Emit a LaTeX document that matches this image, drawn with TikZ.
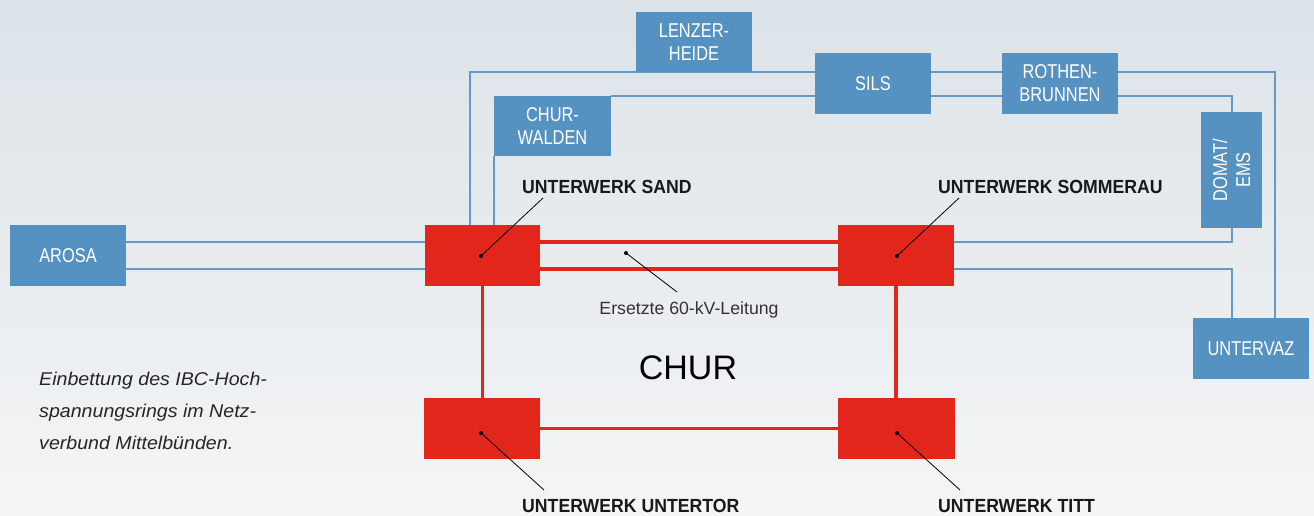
\documentclass[tikz,border=0pt]{standalone}
\usepackage{fontspec}
\setmainfont{Liberation Sans}
\newfontfamily\boxfont[FakeStretch=0.82]{Liberation Sans}
\newfontfamily\lblfont[FakeStretch=0.93]{Liberation Sans}
\newfontfamily\capfont[FakeStretch=1.06]{Liberation Sans}
\definecolor{bgtop}{HTML}{DCE3E8}
\definecolor{bgbot}{HTML}{F4F5F6}
\definecolor{boxblue}{HTML}{5591C1}
\definecolor{lineblue}{HTML}{6399CB}
\definecolor{netred}{HTML}{E2261B}
\pgfdeclarelayer{bglayer}
\pgfdeclarelayer{linelayer}
\pgfsetlayers{bglayer,linelayer,main}
\tikzset{
  bluebox/.style={fill=boxblue, text=white, inner sep=0pt, outer sep=0pt, anchor=north west,
    align=center, font=\boxfont\fontsize{20}{23}\selectfont},
  redbox/.style={fill=netred, inner sep=0pt, outer sep=0pt, anchor=north west,
    minimum width=116pt, minimum height=61pt},
  bline/.style={draw=lineblue, line width=2pt},
  rline/.style={draw=netred, line width=3.5pt},
  leader/.style={draw=black, line width=0.8pt},
  werk/.style={anchor=base west, inner sep=0pt, text=black!90, font=\lblfont\bfseries\fontsize{19}{23}\selectfont},
  captext/.style={anchor=base west, inner sep=0pt, text=black!85, font=\capfont\itshape\fontsize{18.5}{32}\selectfont}
}
\begin{document}
\begin{tikzpicture}[x=1pt,y=-1pt]
\useasboundingbox (0,0) rectangle (1314,515);
\begin{pgfonlayer}{bglayer}
\shade[top color=bgtop, bottom color=bgbot] (0,0) rectangle (1314,515);
\end{pgfonlayer}

% blue nodes
\node[bluebox, minimum width=116pt, minimum height=61pt] (arosa) at (10,225) {AROSA};
\node[bluebox, minimum width=116pt, minimum height=60pt] (lenz) at (636,12) {LENZER-\\HEIDE};
\node[bluebox, minimum width=117pt, minimum height=60pt] (churw) at (494,96) {CHUR-\\WALDEN};
\node[bluebox, minimum width=116pt, minimum height=61pt] (sils) at (815,53) {SILS};
\node[bluebox, minimum width=116pt, minimum height=61pt] (roth) at (1002,53) {ROTHEN-\\BRUNNEN};
\node[bluebox, minimum width=61pt, minimum height=116pt] (domat) at (1201,112) {};
\node[rotate=90, text=white, align=center, inner sep=0pt, font=\boxfont\fontsize{20}{23}\selectfont] (domattxt) at (domat.center) {DOMAT/\\EMS};
\node[bluebox, minimum width=116pt, minimum height=61pt] (untervaz) at (1193,318) {UNTERVAZ};

% red nodes
\node[redbox, minimum width=115pt] (sand) at (425,225) {};
\node[redbox] (somm) at (838,225) {};
\node[redbox] (untertor) at (424,398) {};
\node[redbox, minimum width=117pt] (titt) at (838,398) {};

% blue connectors
\begin{pgfonlayer}{linelayer}
\draw[bline] ([yshift=-17pt]arosa.north east) -- ([yshift=-17pt]sand.north west);
\draw[bline] ([yshift=-44pt]arosa.north east) -- ([yshift=-44pt]sand.north west);
\draw[bline] ([xshift=45pt]sand.north west) |- ([yshift=-19pt]sils.north west);
\draw[bline] ([xshift=69pt]sand.north west) -- (churw.south west);
\draw[bline] (churw.north east) -- ([yshift=-43pt]sils.north west);
\draw[bline] ([yshift=-19pt]sils.north east) -- ([yshift=-19pt]roth.north west);
\draw[bline] ([yshift=-43pt]sils.north east) -- ([yshift=-43pt]roth.north west);
\draw[bline] ([yshift=-19pt]roth.north east) -| ([xshift=82pt]untervaz.north west);
\draw[bline] ([yshift=-43pt]roth.north east) -| (domat.north);
\draw[bline] (domat.south) |- ([yshift=-17pt]somm.north east);
\draw[bline] ([yshift=-44pt]somm.north east) -| ([xshift=39pt]untervaz.north west);
\end{pgfonlayer}

% red connectors
\draw[rline] ([yshift=-17pt]sand.north east) -- ([yshift=-17pt]somm.north west);
\draw[rline] ([yshift=-44pt]sand.north east) -- ([yshift=-44pt]somm.north west);
\draw[rline] (sand.south) -- (sand.south |- untertor.north);
\draw[rline] (somm.south) -- (somm.south |- titt.north);
\draw[rline] (untertor.east) -- (titt.west);

% labels
\node[werk] (lsand) at (522,193) {UNTERWERK SAND};
\node[werk] (lsomm) at (938,193) {UNTERWERK SOMMERAU};
\node[werk] (luntertor) at (522,512) {UNTERWERK UNTERTOR};
\node[werk] (ltitt) at (938,512) {UNTERWERK TITT};
\coordinate (esand) at (543,198);
\coordinate (esomm) at (959,198);
\coordinate (euntertor) at (544,490);
\coordinate (etitt) at (960,490);
\coordinate (dsand) at (481,256);
\coordinate (dsomm) at (897,256);
\coordinate (duntertor) at (481,433);
\coordinate (dtitt) at (897,433);
\coordinate (dleit) at (626,253);
\coordinate (eleit) at (677,292);
\foreach \n in {sand,somm,untertor,titt,leit}{
  \draw[leader] (d\n) -- (e\n);
  \fill[black] (d\n) circle (2pt);
}
\node[anchor=base, inner sep=0pt, text=black!80, font=\fontsize{17.7}{20}\selectfont] (leit) at (689,314) {Ersetzte 60-kV-Leitung};
\node[anchor=base, inner sep=0pt, text=black, font=\fontsize{34}{40}\selectfont] (chur) at (688,379) {CHUR};

% caption
\node[captext] (cap1) at (39,385) {Einbettung des IBC-Hoch-};
\node[captext] (cap2) at (39,417) {spannungsrings im Netz-};
\node[captext] (cap3) at (39,449) {verbund Mittelbünden.};
\end{tikzpicture}
\end{document}
